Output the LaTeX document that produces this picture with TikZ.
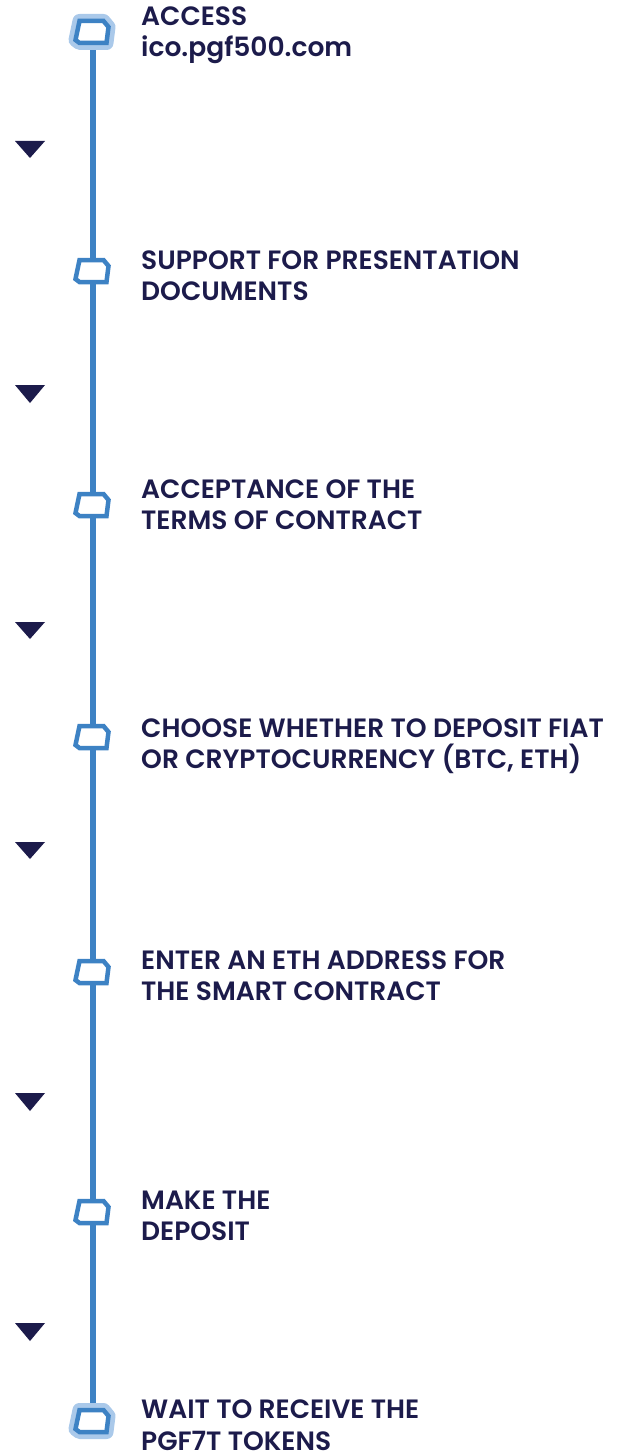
\documentclass[tikz,border=0pt]{standalone}
\usepackage{fontspec}
\setmainfont{Poppins}[BoldFont=* SemiBold]
\usetikzlibrary{positioning}
\definecolor{lineblue}{HTML}{3D82C4}
\definecolor{haloblue}{HTML}{AAC9EA}
\definecolor{navy}{HTML}{1C1B4B}
\tikzset{
  steptext/.style={anchor=base west, inner sep=0pt, align=left, text=navy,
    font=\fontsize{26.5}{31.5}\selectfont\bfseries},
  stepmark/.pic={
    \draw[lineblue, line width=4.5pt, fill=white]
      (-13,-11) -- (11,-11) -- (16,-5) -- (14,11) -- (-13,11) -- (-17,8) -- cycle;
  },
  endmark/.pic={
    \draw[haloblue, line width=14pt, line join=round]
      (-13,-11) -- (11,-11) -- (16,-5) -- (14,11) -- (-13,11) -- (-17,8) -- cycle;
    \pic {stepmark};
  },
  downarrow/.style={fill=navy}
}
\begin{document}
\begin{tikzpicture}[x=1pt, y=-1pt]
  \useasboundingbox (0,0) rectangle (618,1453);
  \coordinate (s1) at (92.5,32);
  \coordinate (s2) at (92.5,271);
  \coordinate (s3) at (92.5,505);
  \coordinate (s4) at (92.5,737);
  \coordinate (s5) at (92.5,972);
  \coordinate (s6) at (92.5,1212);
  \coordinate (s7) at (92.5,1421);
  \draw[lineblue, line width=6pt] (s1) -- (s7);
  \pic at (s1) {endmark};
  \pic at (s2) {stepmark};
  \pic at (s3) {stepmark};
  \pic at (s4) {stepmark};
  \pic at (s5) {stepmark};
  \pic at (s6) {stepmark};
  \pic at (s7) {endmark};
  \node[steptext] (t1) at (141,57) {ACCESS\\ico.pgf500.com};
  \node[steptext] (t2) at (141,300.5) {SUPPORT FOR PRESENTATION\\DOCUMENTS};
  \node[steptext] (t3) at (141,529.5) {ACCEPTANCE OF THE\\TERMS OF CONTRACT};
  \node[steptext] (t4) at (141,768.5) {CHOOSE WHETHER TO DEPOSIT FIAT\\OR CRYPTOCURRENCY (BTC, ETH)};
  \node[steptext] (t5) at (141,1000.5) {ENTER AN ETH ADDRESS FOR\\THE SMART CONTRACT};
  \node[steptext] (t6) at (141,1240.5) {MAKE THE\\DEPOSIT};
  \node[steptext] (t7) at (141,1450) {WAIT TO RECEIVE THE\\PGF7T TOKENS};
  \fill[downarrow] (15,141) -- (45,141) -- (30,158) -- cycle;
  \fill[downarrow] (15,385) -- (45,385) -- (30,403) -- cycle;
  \fill[downarrow] (15,622) -- (45,622) -- (30,639) -- cycle;
  \fill[downarrow] (15,842) -- (45,842) -- (30,859) -- cycle;
  \fill[downarrow] (15,1093) -- (45,1093) -- (30,1111) -- cycle;
  \fill[downarrow] (15,1323) -- (45,1323) -- (30,1341) -- cycle;
\end{tikzpicture}
\end{document}
